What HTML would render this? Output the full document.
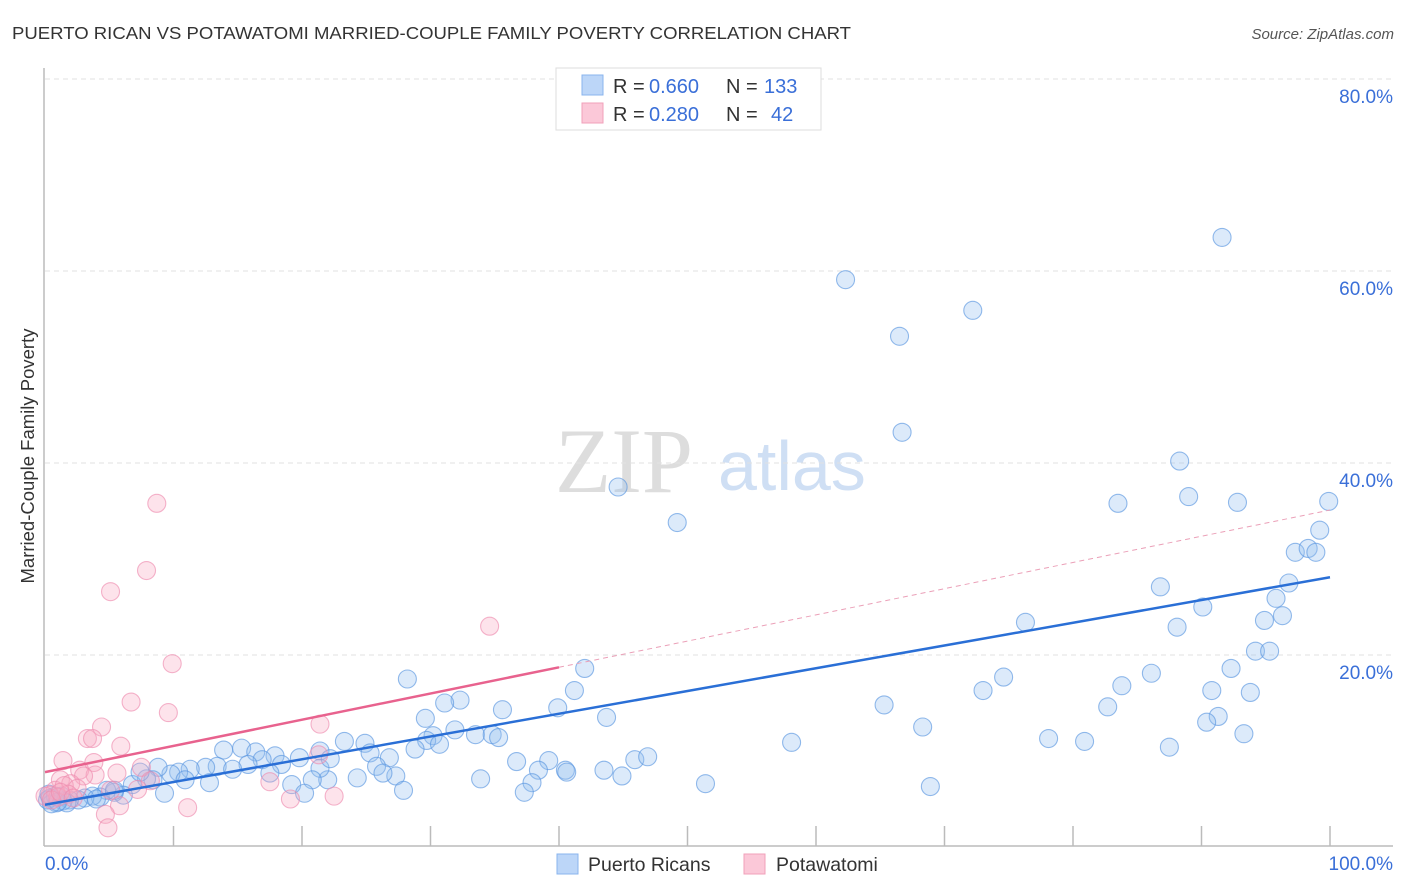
<!DOCTYPE html>
<html><head><meta charset="utf-8"><style>
body{margin:0;background:#fff;font-family:"Liberation Sans",sans-serif}
svg{display:block}
</style></head><body>
<svg id="chart" width="1406" height="892">
<text x="12" y="39" font-size="17.5" fill="#333" textLength="839" lengthAdjust="spacingAndGlyphs">PUERTO RICAN VS POTAWATOMI MARRIED-COUPLE FAMILY POVERTY CORRELATION CHART</text>
<text x="1394" y="39" font-size="15" fill="#555" font-style="italic" text-anchor="end">Source: ZipAtlas.com</text>
<text x="34" y="456" font-size="18.5" fill="#333" text-anchor="middle" transform="rotate(-90 34 456)">Married-Couple Family Poverty</text>
<text x="555" y="492" font-size="92" fill="#ddd" font-family="Liberation Serif,serif">ZIP</text>
<text x="718" y="490" font-size="70" fill="#cfdff4">atlas</text>
<g id="grid"></g><g id="axes"></g><g id="pts"></g><g id="lines"></g>
<g>
<rect x="556" y="68" width="265" height="62" fill="#fff" stroke="#ddd"/>
<rect x="582" y="75" width="21" height="20" fill="#bcd6f8" stroke="#8ab4ee"/>
<rect x="582" y="103" width="21" height="20" fill="#fbc8d8" stroke="#f0a0ba"/>
<g font-size="20">
<text x="613" y="93" fill="#333">R =</text><text x="649" y="93" fill="#3a6fd8">0.660</text>
<text x="726" y="93" fill="#333">N =</text><text x="764" y="93" fill="#3a6fd8">133</text></g>
<g font-size="20">
<text x="613" y="121" fill="#333">R =</text><text x="649" y="121" fill="#3a6fd8">0.280</text>
<text x="726" y="121" fill="#333">N =</text><text x="771" y="121" fill="#3a6fd8">42</text></g>
</g>
<g>
<rect x="557" y="854" width="21" height="20" fill="#bcd6f8" stroke="#8ab4ee"/>
<text x="588" y="871" font-size="19.5" fill="#333">Puerto Ricans</text>
<rect x="744" y="854" width="21" height="20" fill="#fbc8d8" stroke="#f0a0ba"/>
<text x="776" y="871" font-size="19.5" fill="#333">Potawatomi</text>
</g>
</svg>
<script>
const yTicks=[20,40,60,80];
const yTickLabels=["20.0%","40.0%","60.0%","80.0%"];
const xTicks=[10,20,30,40,50,60,70,80,90,100];
const blueX=[44.6,49.2,62.3,66.5,66.7,72.2,91.6,88.3,83.5,89.0,92.8,99.9,99.2,97.3,98.3,98.9,96.8,95.8,86.8,90.1,94.9,96.3,88.1,76.3,94.2,95.3,92.3,86.1,74.6,73.0,83.8,90.8,93.8,65.3,82.7,91.3,90.4,68.3,78.1,80.9,93.3,87.5,58.1,68.9,51.4,42.0,41.2,39.9,43.7,28.2,32.3,31.1,35.6,29.6,31.9,33.5,34.8,35.3,30.2,29.7,30.7,28.8,23.3,24.9,26.8,25.3,21.4,25.8,27.3,26.3,24.3,22.0,27.9,33.9,36.7,39.2,38.4,40.5,40.6,37.9,37.3,43.5,44.9,45.9,46.9,13.9,15.3,16.4,17.9,16.9,18.4,19.8,21.4,22.2,17.5,19.2,20.8,20.2,15.8,13.4,14.6,12.5,11.3,10.4,9.8,8.8,8.4,10.9,12.8,7.9,9.3,6.8,6.1,5.4,4.8,4.3,3.7,3.1,2.6,1.9,1.4,0.9,0.4,0.2,0.8,1.3,1.7,4.0,5.4,7.4,0.5,0.3,1.0];
const blueY=[37.5,33.8,59.1,53.2,43.2,55.9,63.5,40.2,35.8,36.5,35.9,36.0,33.0,30.7,31.1,30.7,27.5,25.9,27.1,25.0,23.6,24.1,22.9,23.4,20.4,20.4,18.6,18.1,17.7,16.3,16.8,16.3,16.1,14.8,14.6,13.6,13.0,12.5,11.3,11.0,11.8,10.4,10.9,6.3,6.6,18.6,16.3,14.5,13.5,17.5,15.3,15.0,14.3,13.4,12.2,11.7,11.7,11.4,11.6,11.1,10.7,10.2,11.0,10.8,9.3,9.8,10.0,8.4,7.4,7.7,7.2,7.0,5.9,7.1,8.9,9.0,8.0,8.0,7.8,6.7,5.7,8.0,7.4,9.1,9.4,10.1,10.3,9.9,9.5,9.1,8.6,9.3,8.2,9.2,7.7,6.5,7.0,5.6,8.6,8.4,8.1,8.3,8.1,7.8,7.6,8.3,7.0,7.0,6.7,7.1,5.6,6.5,5.4,5.7,5.9,5.2,5.3,5.1,4.9,4.9,4.8,4.6,5.1,4.9,5.3,5.3,4.6,5.0,5.9,7.8,4.5,5.5,4.7];
const pinkX=[8.7,7.9,5.1,34.6,9.9,6.7,9.6,4.4,3.3,3.7,5.9,21.4,21.3,1.4,3.8,7.5,2.7,5.6,3.9,3.0,1.2,2.0,8.2,17.5,0.8,1.5,2.5,5.1,7.2,19.1,22.5,5.8,4.7,11.1,4.9,0.4,1.0,1.8,0,0.5,1.2,2.2];
const pinkY=[35.8,28.8,26.6,23.0,19.1,15.1,14.0,12.5,11.3,11.3,10.5,12.8,9.6,9.0,8.8,8.3,8.0,7.7,7.5,7.4,7.0,6.6,6.9,6.8,5.9,6.4,6.1,5.9,6.0,5.0,5.3,4.3,3.4,4.1,2.0,5.4,5.2,5.5,5.3,4.9,5.7,5.1];
const blueTrend=[4.4,28.1];
const pinkTrend=[7.8,35.1];
const pinkSolidEnd=40;
const NS="http://www.w3.org/2000/svg";
const X=v=>45+v*12.85, Y=v=>847-v*9.6;
function mk(tag,attrs,parent){const e=document.createElementNS(NS,tag);for(const k in attrs)e.setAttribute(k,attrs[k]);parent.appendChild(e);return e;}
const grid=document.getElementById('grid'),axes=document.getElementById('axes'),pts=document.getElementById('pts'),lines=document.getElementById('lines');
yTicks.forEach((t,i)=>{
 const l=mk('line',{x1:45,x2:1393,y1:Y(t),y2:Y(t),stroke:'#e2e2e2','stroke-dasharray':'5,4'},grid);
 
 
 const tx=mk('text',{x:1393,y:Y(t)+24,'font-size':19,fill:'#3a6fd8','text-anchor':'end'},grid);
 tx.textContent=yTickLabels[i];
 
 
});
const ya=mk('line',{x1:44,x2:44,y1:68,y2:846,stroke:'#bbb','stroke-width':1.5},axes);


const xa=mk('line',{x1:44,x2:1393,y1:846,y2:846,stroke:'#bbb','stroke-width':1.5},axes);


xTicks.forEach(t=>{const l=mk('line',{x1:X(t),x2:X(t),y1:826,y2:846,stroke:'#bbb','stroke-width':1.5},axes);
 
 });
const x0=mk('text',{x:45,y:870,'font-size':19,fill:'#3a6fd8'},axes);x0.textContent='0.0%';


const x1=mk('text',{x:1393,y:870,'font-size':19,fill:'#3a6fd8','text-anchor':'end'},axes);x1.textContent='100.0%';


blueX.forEach((x,i)=>{const c=mk('circle',{cx:X(x),cy:Y(blueY[i]),r:9,fill:'rgba(150,190,240,0.33)',stroke:'rgba(90,150,225,0.65)','stroke-width':1.1},pts);
 
 });
pinkX.forEach((x,i)=>{const c=mk('circle',{cx:X(x),cy:Y(pinkY[i]),r:9,fill:'rgba(248,170,195,0.33)',stroke:'rgba(238,140,175,0.65)','stroke-width':1.1},pts);
 
 });
const bl=mk('line',{x1:X(0),y1:Y(blueTrend[0]),x2:X(100),y2:Y(blueTrend[1]),stroke:'#2a6fd6','stroke-width':2.5},lines);


const pAt=x=>pinkTrend[0]+(pinkTrend[1]-pinkTrend[0])*x/100;
const ps=mk('line',{x1:X(0),y1:Y(pAt(0)),x2:X(pinkSolidEnd),y2:Y(pAt(pinkSolidEnd)),stroke:'#e8628e','stroke-width':2.5},lines);


const pd=mk('line',{x1:X(pinkSolidEnd),y1:Y(pAt(pinkSolidEnd)),x2:X(100),y2:Y(pAt(100)),stroke:'#eba0b8','stroke-width':1,'stroke-dasharray':'5,4'},lines);


</script>
</body></html>
